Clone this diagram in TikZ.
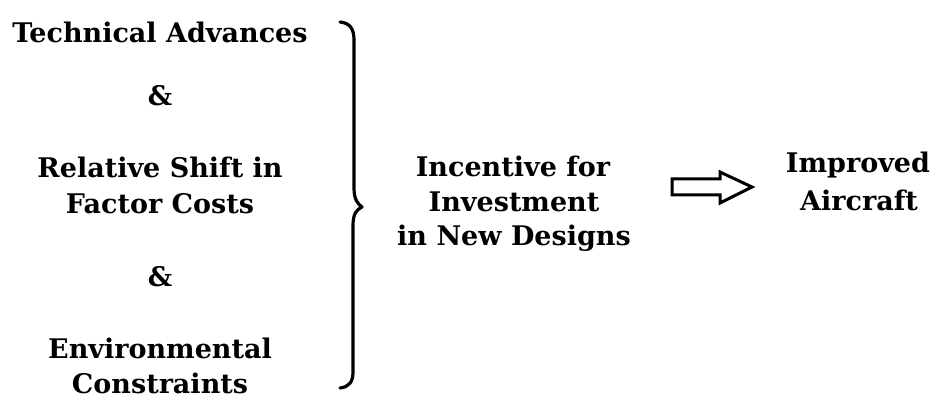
\documentclass[tikz,border=0pt]{standalone}
\usepackage{fontspec}
\setmainfont{DejaVu Serif}
\begin{document}
\begin{tikzpicture}[x=1pt,y=-1pt,
  lbl/.style={anchor=base,inner sep=0pt,font=\bfseries\fontsize{27}{32}\selectfont},
  brace/.style={line width=3.2pt,line cap=round,line join=round},
  fat/.style={line width=3pt,line join=miter}]
\useasboundingbox (0,0) rectangle (932,398);
% left column
\node[lbl] (t1) at (160,43) {Technical Advances};
\node[lbl] (a1) at (160,106) {\&};
\node[lbl] (r1) at (160,178) {Relative Shift in};
\node[lbl] (r2) at (160,214) {Factor Costs};
\node[lbl] (a2) at (160,287) {\&};
\node[lbl] (e1) at (160,358) {Environmental};
\node[lbl] (e2) at (160,393) {Constraints};
% middle
\node[lbl] (i1) at (513,177) {Incentive for};
\node[lbl] (i2) at (514,212) {Investment};
\node[lbl] (i3) at (514,246) {in New Designs};
% right
\node[lbl] (p1) at (858,173) {Improved};
\node[lbl] (p2) at (859,211) {Aircraft};
% brace
\coordinate (bt) at (340,22);
\coordinate (bm) at (362,207);
\coordinate (bb) at (340,388);
\draw[brace] (bt) .. controls (350,23) and (354,29) .. (354,40)
  -- (354,188) .. controls (354,200) and (358,204) .. (bm)
  .. controls (356,210) and (353,214) .. (353,226)
  -- (353,372) .. controls (353,382) and (349,387) .. (bb);
% arrow
\coordinate (as) at (672,187);
\coordinate (ae) at (752,187);
\draw[fat] (as) ++(0,-8) -- ++(48,0) -- ++(0,-7) -- (ae) -- ++(-32,16) -- ++(0,-8) -- ++(-48,0) -- cycle;
\end{tikzpicture}
\end{document}
